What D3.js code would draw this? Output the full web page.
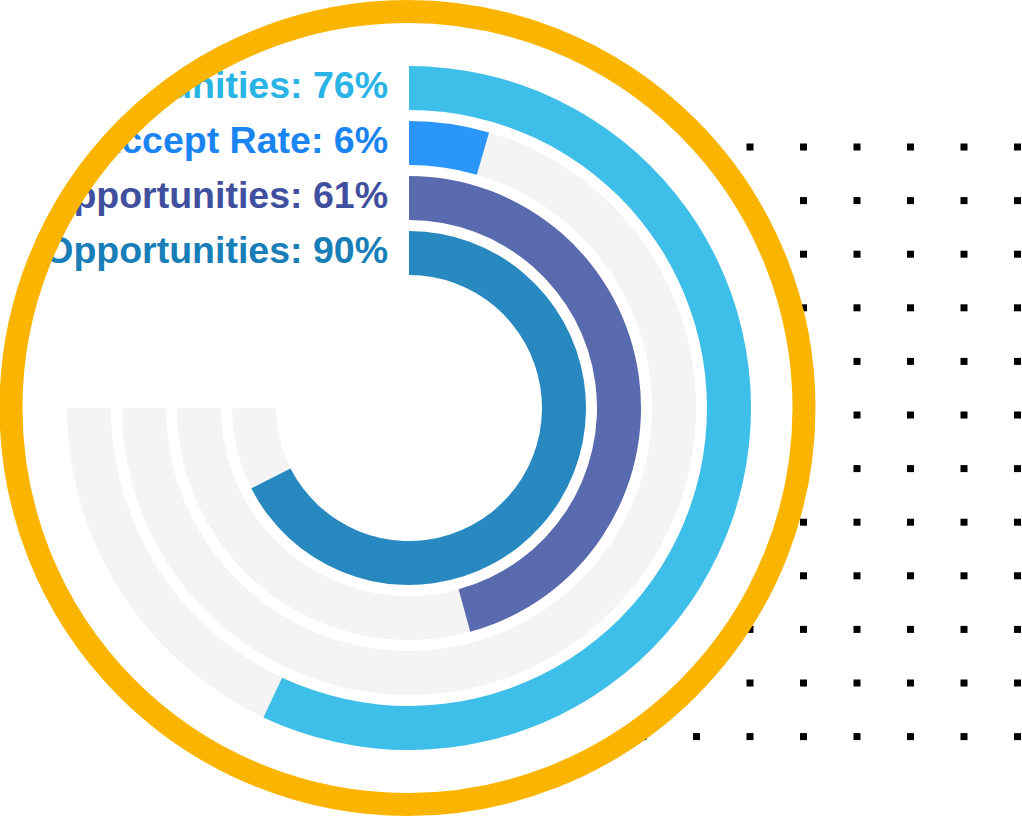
<!DOCTYPE html>
<html>
<head>
<meta charset="utf-8">
<script src="https://cdn.jsdelivr.net/npm/d3@7"></script>
<style>
  html, body { margin: 0; padding: 0; background: #fff; }
  svg { display: block; }
</style>
</head>
<body>
<svg></svg>
<script>
// chart data
var labels = ['Interview Opportunities', 'Offer Accept Rate', 'Hiring Opportunities', 'Job Opportunities'];
var values = [76, 6, 61, 90];
var barColors = ['#3dbfea', '#2a96fb', '#5a6aae', '#2889c0'];
var textColors = ['#2ab4e6', '#1b84f3', '#41509e', '#187eb8'];

var width = 1022;
var height = 816;
var cx = 409, cy = 408;          // chart centre
var ringCx = 407.5, ringCy = 408; // orange frame centre
var ringR = 396.5;

var svg = d3.select('svg')
  .attr('width', width)
  .attr('height', height);

// dotted pattern behind the circle
var dotCols = d3.range(8).map(i => 643 + i * 53.5);
var dotRows = d3.range(12).map(i => 147 + i * 53.6);
var dots = [];
dotRows.forEach(y => dotCols.forEach(x => dots.push([x, y])));

svg.append('g')
  .selectAll('rect')
  .data(dots)
  .enter()
  .append('rect')
    .attr('x', d => d[0] - 3.5)
    .attr('y', d => d[1] - 3.5)
    .attr('width', 7)
    .attr('height', 7)
    .attr('fill', '#000');

// white disc + clip
svg.append('defs')
  .append('clipPath')
    .attr('id', 'circleClip')
  .append('circle')
    .attr('cx', ringCx)
    .attr('cy', ringCy)
    .attr('r', ringR);

svg.append('circle')
  .attr('cx', ringCx)
  .attr('cy', ringCy)
  .attr('r', ringR)
  .attr('fill', '#fff');

var chart = svg.append('g')
  .attr('clip-path', 'url(#circleClip)')
  .append('g')
    .attr('transform', `translate(${cx}, ${cy})`);

var angle = d3.scaleLinear()
  .domain([0, 100])
  .range([0, 1.5 * Math.PI]);

var radius = d3.scaleBand()
  .domain(labels)
  .range([342, 133])
  .paddingInner(0.2);

var bw = radius.bandwidth();

var arc = d3.arc()
  .innerRadius(d => radius(d.label))
  .outerRadius(d => radius(d.label) + bw)
  .startAngle(0)
  .endAngle(d => angle(d.value));

var rows = labels.map((l, i) => ({ label: l, value: values[i], color: barColors[i], text: textColors[i] }));

// tracks
chart.selectAll('path.track')
  .data(rows)
  .enter()
  .append('path')
    .attr('class', 'track')
    .attr('d', d => arc({ label: d.label, value: 100 }))
    .attr('fill', '#f4f4f4');

// bars
chart.selectAll('path.bar')
  .data(rows)
  .enter()
  .append('path')
    .attr('class', 'bar')
    .attr('d', arc)
    .attr('fill', d => d.color);

// labels
chart.selectAll('text')
  .data(rows)
  .enter()
  .append('text')
    .attr('x', -21)
    .attr('y', d => -(radius(d.label) + bw / 2) + 10)
    .attr('text-anchor', 'end')
    .style('font-family', '"Liberation Sans", Arial, Helvetica, sans-serif')
    .style('font-weight', 'bold')
    .style('font-size', '37.5px')
    .attr('fill', d => d.text)
    .text(d => `${d.label}: ${d.value}%`);

// orange frame
svg.append('circle')
  .attr('cx', ringCx)
  .attr('cy', ringCy)
  .attr('r', ringR)
  .attr('fill', 'none')
  .attr('stroke', '#fbb500')
  .attr('stroke-width', 23);
</script>
</body>
</html>
